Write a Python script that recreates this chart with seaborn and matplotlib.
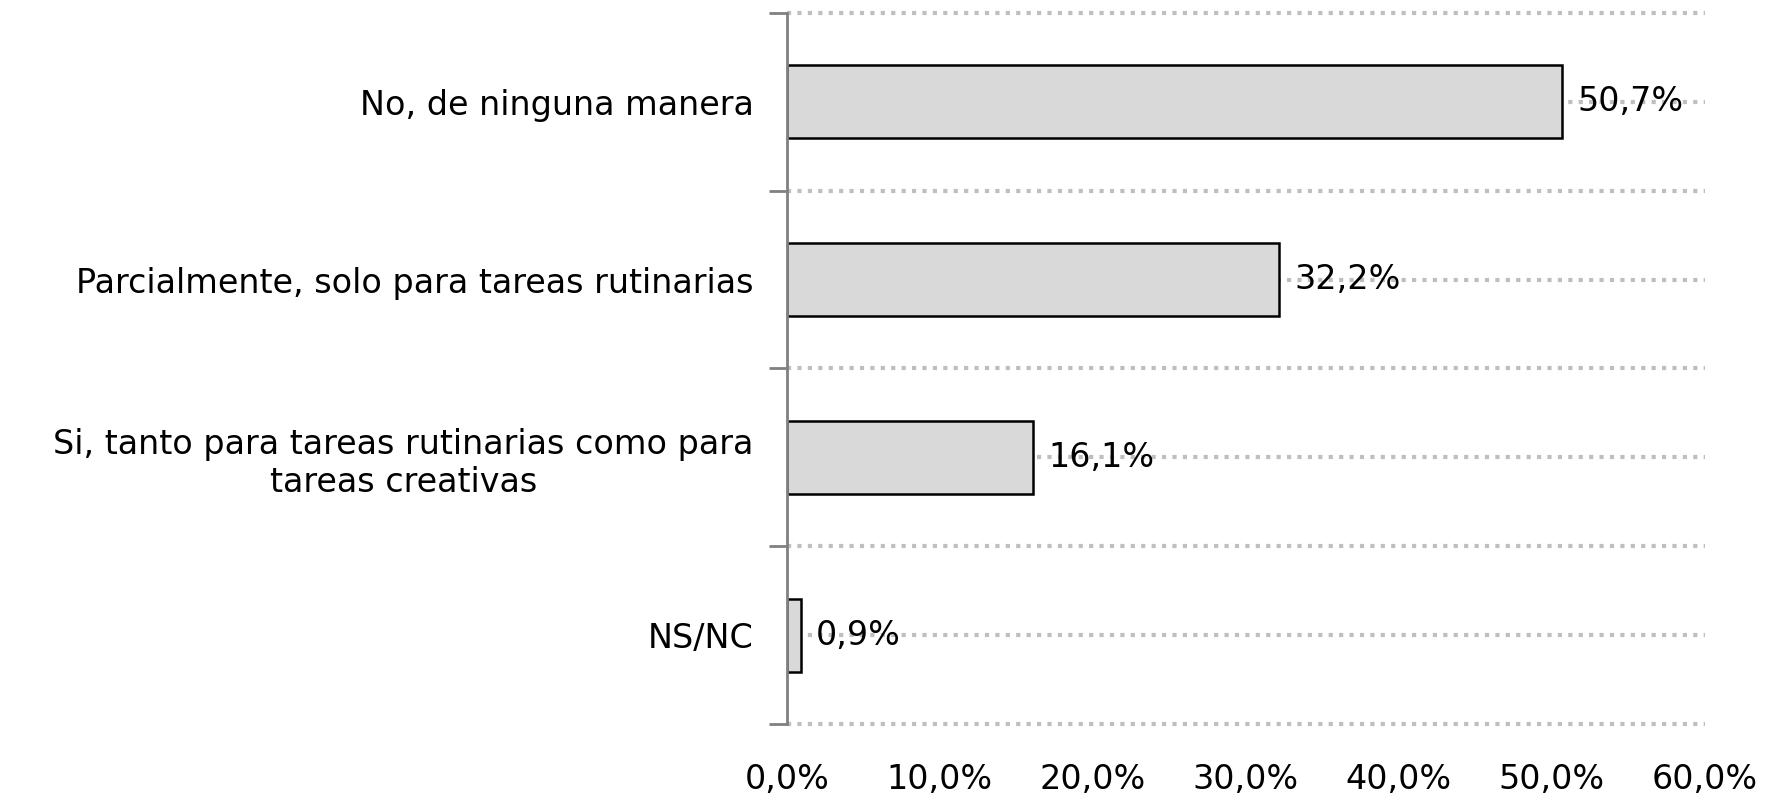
import pandas as pd
import matplotlib.pyplot as plt
import seaborn as sns

categories = [
    "No, de ninguna manera",
    "Parcialmente, solo para tareas rutinarias",
    "Si, tanto para tareas rutinarias como para\ntareas creativas",
    "NS/NC",
]
values = [50.7, 32.2, 16.1, 0.9]
value_labels = ["50,7%", "32,2%", "16,1%", "0,9%"]
x_ticks = [0, 10, 20, 30, 40, 50, 60]
x_tick_labels = ["0,0%", "10,0%", "20,0%", "30,0%", "40,0%", "50,0%", "60,0%"]

df = pd.DataFrame({"cat": categories, "val": values})

sns.set_style("white")
plt.rcParams["font.family"] = ["DejaVu Sans"]
plt.rcParams["text.color"] = "black"
fs = 24

fig = plt.figure(figsize=(17.82, 7.94), dpi=100)
ax = fig.add_axes([0.4416, 0.0882, 0.515, 0.8954])

# dotted gridlines at category centres and boundaries (behind bars)
n = len(categories)
for y in [i * 0.5 - 0.5 for i in range(2 * n + 1)]:
    ax.axhline(y, color="#bfbfbf", linestyle=(0, (1, 1.5)), linewidth=3,
               zorder=0, clip_on=False)

sns.barplot(data=df, x="val", y="cat", orient="h", color="#d9d9d9",
            edgecolor="black", linewidth=1.8, width=0.41, saturation=1,
            ax=ax, zorder=2)

for i, (v, lab) in enumerate(zip(values, value_labels)):
    ax.text(v + 1.0, i, lab, va="center", ha="left", fontsize=fs, color="black", zorder=3)

ax.set_xlim(0, 60)
ax.set_ylim(n - 0.5, -0.5)
ax.set_xticks(x_ticks)
ax.set_xticklabels(x_tick_labels, fontsize=fs, color="black")
ax.tick_params(axis="x", length=0, pad=28)

ax.set_yticks(range(n))
ax.set_yticklabels(categories, fontsize=fs, color="black", multialignment="center")
ax.tick_params(axis="y", which="major", length=0, pad=24)
ax.set_yticks([i - 0.5 for i in range(n + 1)], minor=True)
ax.tick_params(axis="y", which="minor", left=True, length=13, width=2,
               color="#808080", direction="out")

ax.set_xlabel("")
ax.set_ylabel("")
for s in ["top", "right", "bottom"]:
    ax.spines[s].set_visible(False)
ax.spines["left"].set_color("#808080")
ax.spines["left"].set_linewidth(2)

fig.savefig("out.png", dpi=100)
